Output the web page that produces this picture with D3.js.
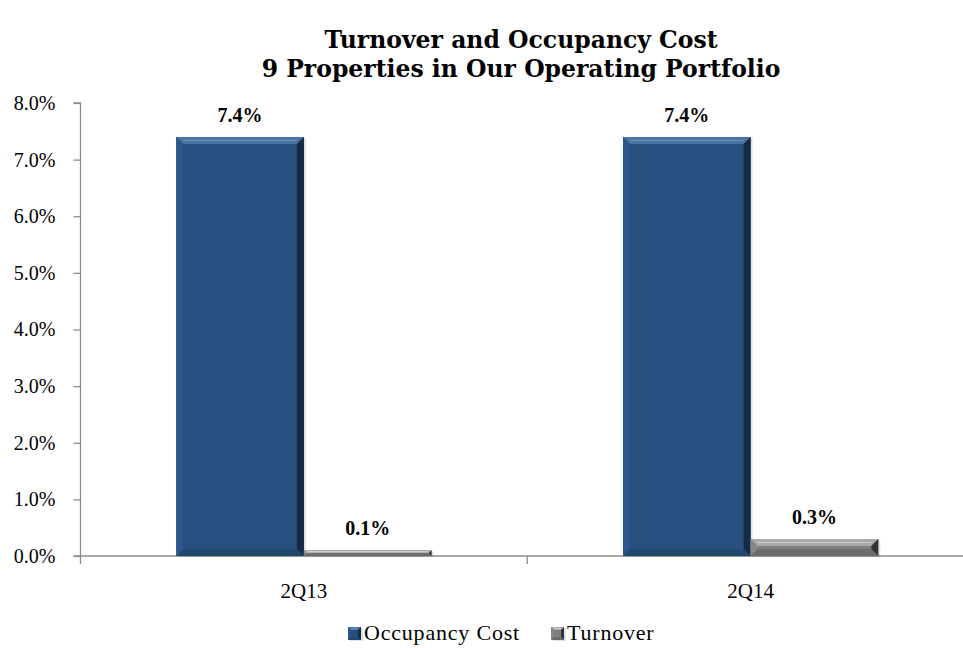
<!DOCTYPE html>
<html>
<head>
<meta charset="utf-8">
<script src="https://cdn.jsdelivr.net/npm/d3@7"></script>
<style>
  html, body { margin: 0; padding: 0; background: #fff; }
  svg { display: block; }
  text { fill: #000; }
</style>
</head>
<body>
<svg id="chart" width="963" height="648"></svg>
<script>
// Chart data
const categories = ["2Q13", "2Q14"];
const seriesNames = ["Occupancy Cost", "Turnover"];
const occupancyCost = [7.4, 7.4];
const turnover = [0.1, 0.3];
const yTicks = [0, 1, 2, 3, 4, 5, 6, 7, 8];
const titleLines = ["Turnover and Occupancy Cost", "9 Properties in Our Operating Portfolio"];

const margin = { left: 80.5, top: 103 };
const plotRight = 974;          // category band runs slightly past the frame
const y0 = 556;
const axisColor = "#8c8c8c";
const bodyFont = "'Liberation Serif', serif";
const titleFont = "'DejaVu Serif', serif";

const svg = d3.select("#chart");

const x = d3.scaleBand().domain(categories).range([margin.left, plotRight]).paddingInner(0).paddingOuter(0);
const xs = d3.scaleBand().domain(seriesNames).range([0, x.bandwidth()]).paddingInner(0).paddingOuter(0.75);
const y = d3.scaleLinear().domain([0, 8]).range([y0, margin.top]);

// bevel colour sets per series
const palette = {
  "Occupancy Cost": { base: "#27507f", top: "#4a73a3", left: "#2d578a", right: "#142b46", bottom: "#22476f", hi: "#7094bd" },
  "Turnover":       { base: "#7f7f7f", top: "#a9a9a9", left: "#878787", right: "#333333", bottom: "#6c6c6c", hi: "#d6d6d6" }
};

// Draws a bevelled bar: flat face plus four trapezoid edges
function bevelBar(g, bx, by, bw, bh, c, size) {
  const b = Math.min(size, bh / 2.2, bw / 2);
  const gg = g.append("g");
  gg.append("rect").attr("x", bx + 2).attr("y", by + 1).attr("width", bw).attr("height", bh)
    .attr("fill", "#000").attr("opacity", 0.12);
  gg.append("rect").attr("x", bx).attr("y", by).attr("width", bw).attr("height", bh).attr("fill", c.base);
  const poly = (pts, fill) => gg.append("polygon").attr("points", pts.map(p => p.join(",")).join(" ")).attr("fill", fill);
  poly([[bx, by], [bx + bw, by], [bx + bw - b, by + b], [bx + b, by + b]], c.top);
  poly([[bx, by], [bx + b, by + b], [bx + b, by + bh - b], [bx, by + bh]], c.left);
  poly([[bx + bw, by], [bx + bw, by + bh], [bx + bw - b, by + bh - b], [bx + bw - b, by + b]], c.right);
  poly([[bx, by + bh], [bx + b, by + bh - b], [bx + bw - b, by + bh - b], [bx + bw, by + bh]], c.bottom);
  if (b > 2) {
    gg.append("line").attr("x1", bx + b).attr("x2", bx + bw - b)
      .attr("y1", by + b * 0.5).attr("y2", by + b * 0.5)
      .attr("stroke", c.hi).attr("stroke-width", 1.2).attr("opacity", 0.8);
  }
  return gg;
}

// Title
svg.append("g").selectAll("text").data(titleLines).join("text")
  .attr("x", 521).attr("y", (d, i) => 48 + i * 29)
  .attr("text-anchor", "middle")
  .style("font-family", titleFont)
  .style("font-weight", "bold").style("font-size", "23.5px")
  .text(d => d);

// Y axis
const yAxis = d3.axisLeft(y).tickValues(yTicks).tickSize(7).tickPadding(18)
  .tickFormat(d => d3.format(".1f")(d) + "%");
const gy = svg.append("g").attr("transform", `translate(${margin.left},0)`).call(yAxis);
gy.select(".domain").attr("stroke", axisColor).attr("stroke-width", 1.3).attr("d", `M${-7},${margin.top}H0V${y0}`);
gy.selectAll(".tick line").attr("stroke", axisColor).attr("stroke-width", 1.3);
gy.selectAll(".tick text").style("font-size", "20px").style("font-family", bodyFont).attr("fill", "#000");

// X axis with tick marks on category boundaries
const gx = svg.append("g");
gx.append("line").attr("x1", margin.left - 7).attr("x2", plotRight).attr("y1", y0).attr("y2", y0)
  .attr("stroke", axisColor).attr("stroke-width", 1.3);
const boundaries = categories.map(c => x(c)).concat([x(categories[categories.length - 1]) + x.bandwidth()]);
gx.selectAll("line.b").data(boundaries).join("line").attr("class", "b")
  .attr("x1", d => d).attr("x2", d => d).attr("y1", y0).attr("y2", y0 + 8)
  .attr("stroke", axisColor).attr("stroke-width", 1.3);
gx.selectAll("text").data(categories).join("text")
  .attr("x", d => x(d) + x.bandwidth() / 2).attr("y", 598)
  .attr("text-anchor", "middle").style("font-size", "21px").style("font-family", bodyFont)
  .text(d => d);

// Bars
const rows = categories.map((c, i) => ({ cat: c, values: [
  { s: seriesNames[0], v: occupancyCost[i] },
  { s: seriesNames[1], v: turnover[i] }
] }));

const gBars = svg.append("g");
rows.forEach(r => {
  r.values.forEach(d => {
    const bx = x(r.cat) + xs(d.s);
    const by = y(d.v);
    bevelBar(gBars, bx, by, xs.bandwidth(), y0 - by, palette[d.s], 7);
    gBars.append("text")
      .attr("x", bx + xs.bandwidth() / 2).attr("y", by - 15)
      .attr("text-anchor", "middle")
      .style("font-family", bodyFont).style("font-weight", "bold").style("font-size", "20px")
      .text(d3.format(".1f")(d.v) + "%");
  });
});

// Legend
const legendItems = [{ s: seriesNames[0], x: 348 }, { s: seriesNames[1], x: 551 }];
const gl = svg.append("g");
legendItems.forEach(it => {
  bevelBar(gl, it.x, 627, 13, 13, palette[it.s], 3);
  gl.append("text").attr("x", it.x + 16).attr("y", 640)
    .style("font-family", bodyFont).style("font-size", "22px")
    .style("letter-spacing", "0.8px").text(it.s);
});
</script>
</body>
</html>
